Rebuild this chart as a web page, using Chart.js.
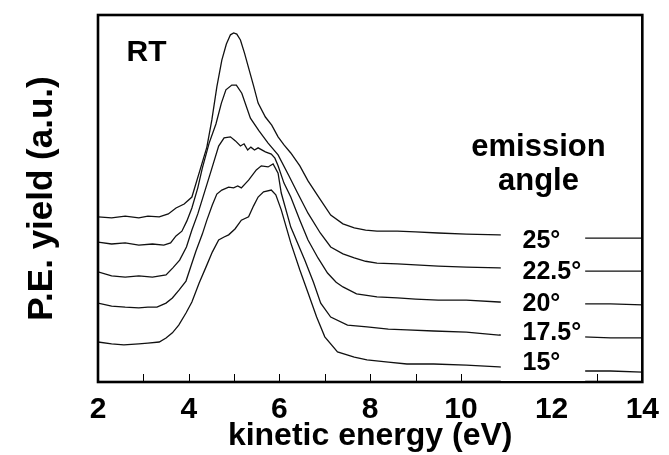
<!DOCTYPE html>
<html>
<head>
<meta charset="utf-8">
<script src="https://cdn.jsdelivr.net/npm/chart.js@4"></script>
<style>
  html, body { margin: 0; padding: 0; background: #fff; }
</style>
</head>
<body>
<canvas id="chart" width="669" height="455"></canvas>
<script>
// kinetic energy (eV) and P.E. yield (a.u.), one pair per emission angle
const e25 = [2.0, 2.3, 2.6, 2.9, 3.1, 3.35, 3.55, 3.72, 3.9, 4.07, 4.25, 4.4, 4.51, 4.62, 4.73, 4.83, 4.92, 4.99, 5.06, 5.14, 5.23, 5.32, 5.43, 5.53, 5.69, 5.83, 5.97, 6.1, 6.25, 6.45, 6.63, 6.88, 7.13, 7.4, 7.65, 7.9, 8.15, 8.6, 9.0, 9.5, 10.12, 10.84, 11.5, 12.2, 12.7, 13.3, 14.0];
const y25 = [45.0, 44.7, 45.2, 44.7, 45.2, 45.0, 45.8, 47.4, 48.5, 50.4, 57.8, 64.0, 71.4, 80.4, 87.7, 92.1, 94.6, 95.1, 94.8, 93.2, 89.6, 85.6, 80.7, 76.0, 72.2, 70.0, 66.8, 64.6, 62.4, 58.9, 54.8, 50.1, 45.5, 43.1, 42.0, 41.4, 41.1, 41.1, 40.9, 40.6, 40.3, 40.1, 39.8, 39.5, 39.2, 39.2, 39.2];

const e22 = [2.0, 2.3, 2.6, 2.9, 3.2, 3.45, 3.6, 3.72, 3.85, 3.96, 4.07, 4.2, 4.3, 4.45, 4.6, 4.72, 4.82, 4.95, 5.05, 5.17, 5.36, 5.55, 5.75, 5.97, 6.2, 6.4, 6.63, 6.9, 7.13, 7.4, 7.65, 7.9, 8.15, 8.6, 9.0, 9.5, 10.12, 10.84, 11.5, 12.2, 12.7, 13.3, 14.0];
const y22 = [38.1, 37.6, 37.9, 37.3, 37.6, 37.3, 37.9, 39.8, 41.1, 43.9, 47.4, 52.9, 58.3, 65.1, 70.3, 76.0, 79.6, 80.9, 80.9, 78.7, 71.9, 68.4, 65.1, 61.9, 56.4, 51.5, 46.0, 40.6, 36.8, 34.9, 33.8, 32.9, 32.4, 32.2, 31.9, 31.6, 31.3, 31.1, 30.8, 30.5, 30.2, 30.2, 30.2];

const e20 = [2.0, 2.3, 2.6, 2.9, 3.2, 3.5, 3.65, 3.8, 3.95, 4.07, 4.2, 4.35, 4.5, 4.66, 4.78, 4.92, 5.03, 5.14, 5.22, 5.3, 5.37, 5.45, 5.53, 5.69, 5.82, 5.9, 5.97, 6.1, 6.25, 6.45, 6.63, 6.85, 7.06, 7.25, 7.4, 7.7, 8.15, 8.6, 9.0, 9.5, 10.12, 10.84, 11.5, 12.2, 12.7, 13.3, 14.0];
const y20 = [30.0, 28.9, 28.6, 28.9, 28.6, 29.2, 31.1, 33.2, 36.8, 41.4, 45.8, 51.8, 57.8, 64.3, 66.5, 66.8, 65.7, 64.3, 64.9, 63.2, 64.0, 63.2, 63.8, 62.7, 62.1, 61.0, 58.9, 54.2, 50.4, 44.1, 38.7, 33.8, 29.7, 27.2, 25.9, 24.0, 23.2, 22.9, 22.6, 22.3, 22.3, 21.8, 21.5, 21.5, 21.3, 21.3, 21.0];

const e17 = [2.0, 2.3, 2.6, 2.9, 3.1, 3.3, 3.5, 3.64, 3.79, 3.94, 4.05, 4.16, 4.3, 4.4, 4.52, 4.62, 4.73, 4.88, 4.99, 5.08, 5.16, 5.32, 5.49, 5.6, 5.75, 5.86, 5.97, 6.04, 6.25, 6.56, 6.75, 6.91, 7.13, 7.5, 7.93, 8.4, 8.81, 9.4, 10.12, 10.84, 11.5, 12.2, 12.7, 13.3, 14.0];
const y17 = [21.5, 20.7, 20.4, 20.2, 20.4, 20.4, 21.5, 22.9, 25.1, 27.5, 31.6, 35.7, 40.3, 44.1, 48.2, 51.2, 52.3, 53.1, 52.9, 53.4, 52.9, 55.0, 57.8, 58.9, 58.6, 59.4, 56.9, 51.5, 42.2, 33.2, 27.2, 21.5, 17.7, 15.5, 15.0, 14.4, 14.2, 13.9, 13.6, 12.8, 12.5, 12.3, 12.3, 12.0, 12.0];

const e15 = [2.0, 2.3, 2.57, 2.9, 3.1, 3.35, 3.5, 3.64, 3.78, 3.94, 4.07, 4.23, 4.38, 4.52, 4.66, 4.78, 4.88, 5.02, 5.16, 5.32, 5.43, 5.53, 5.65, 5.82, 5.92, 6.04, 6.25, 6.45, 6.63, 6.82, 7.0, 7.28, 7.65, 7.93, 8.4, 8.81, 9.4, 10.12, 10.84, 11.5, 12.2, 12.7, 13.3, 14.0];
const y15 = [10.9, 10.4, 10.1, 10.4, 10.6, 10.9, 12.0, 13.4, 15.5, 18.8, 21.8, 27.0, 31.3, 35.4, 38.7, 39.5, 40.1, 41.7, 44.1, 45.0, 48.0, 50.4, 51.8, 52.3, 51.0, 46.9, 37.9, 30.5, 24.3, 17.7, 12.3, 8.2, 6.8, 6.0, 5.4, 4.9, 4.9, 4.6, 4.1, 3.5, 3.3, 3.0, 3.0, 2.7];

const angles = ['25°', '22.5°', '20°', '17.5°', '15°'];
// where each angle label sits (baseline, a.u.)
const angleLabelY = [36.5, 28.1, 19.3, 11.4, 3.3];
const xTicks = [2, 4, 6, 8, 10, 12, 14];

const FONT = "'Liberation Sans', Arial, sans-serif";

const zip = (xs, ys) => xs.map((x, i) => ({ x, y: ys[i] }));

const series = [
  zip(e25, y25),
  zip(e22, y22),
  zip(e20, y20),
  zip(e17, y17),
  zip(e15, y15),
];

const datasets = series.map((data, i) => ({
  label: angles[i],
  data,
  borderColor: '#111',
  borderWidth: 1.3,
  pointRadius: 0,
  tension: 0,
  fill: false,
}));

const decorations = {
  id: 'decorations',
  afterDatasetsDraw: (chart) => {
    const { ctx, chartArea } = chart;
    const xs = chart.scales.x;
    const ys = chart.scales.y;
    ctx.save();

    // inside ticks on the bottom axis, one per eV
    ctx.strokeStyle = '#000';
    ctx.lineWidth = 1;
    for (let v = 3; v <= 13; v++) {
      const px = Math.round(xs.getPixelForValue(v)) + 0.5;
      ctx.beginPath();
      ctx.moveTo(px, chartArea.bottom);
      ctx.lineTo(px, chartArea.bottom - 8);
      ctx.stroke();
    }

    // frame
    ctx.lineWidth = 2.6;
    ctx.strokeRect(chartArea.left, chartArea.top, chartArea.right - chartArea.left, chartArea.bottom - chartArea.top);

    // white panel behind the angle labels
    const bx0 = xs.getPixelForValue(10.88);
    const bx1 = xs.getPixelForValue(12.74);
    ctx.fillStyle = '#fff';
    ctx.fillRect(bx0, ys.getPixelForValue(45), bx1 - bx0, chartArea.bottom - 1 - ys.getPixelForValue(45));

    ctx.fillStyle = '#000';
    ctx.textBaseline = 'alphabetic';
    ctx.font = `bold 25px ${FONT}`;
    ctx.textAlign = 'left';
    angles.forEach((a, i) => {
      ctx.fillText(a, xs.getPixelForValue(11.36), ys.getPixelForValue(angleLabelY[i]));
    });

    ctx.font = `bold 30px ${FONT}`;
    ctx.fillText('RT', xs.getPixelForValue(2.63), ys.getPixelForValue(87.5));

    ctx.font = `bold 31px ${FONT}`;
    ctx.textAlign = 'center';
    ctx.fillText('emission', xs.getPixelForValue(11.71), ys.getPixelForValue(61.6));
    ctx.fillText('angle', xs.getPixelForValue(11.71), ys.getPixelForValue(52.3));

    ctx.restore();
  },
};

new Chart(document.getElementById('chart').getContext('2d'), {
  type: 'line',
  data: { datasets },
  options: {
    responsive: false,
    animation: false,
    layout: { padding: { left: 0, right: 21, top: 15, bottom: 0 } },
    plugins: {
      legend: { display: false },
      tooltip: { enabled: false },
    },
    scales: {
      x: {
        type: 'linear',
        min: 2,
        max: 14,
        afterBuildTicks: (scale) => {
          scale.ticks = xTicks.map((value) => ({ value }));
        },
        afterFit: (scale) => {
          scale.height = 73;
        },
        grid: { display: false, drawTicks: false },
        border: { display: false },
        ticks: {
          color: '#000',
          padding: 10,
          maxRotation: 0,
          font: { family: FONT, size: 30, weight: 'bold' },
        },
        title: {
          display: true,
          text: 'kinetic energy (eV)',
          color: '#000',
          padding: { top: 0, bottom: 0 },
          font: { family: FONT, size: 32, weight: 'bold' },
        },
      },
      y: {
        type: 'linear',
        min: 0,
        max: 100,
        afterFit: (scale) => {
          scale.width = 98;
        },
        grid: { display: false, drawTicks: false },
        border: { display: false },
        ticks: { display: false },
        title: {
          display: true,
          text: 'P.E. yield (a.u.)',
          color: '#000',
          padding: { top: 21, bottom: 0 },
          font: { family: FONT, size: 35, weight: 'bold' },
        },
      },
    },
  },
  plugins: [decorations],
});
</script>
</body>
</html>
